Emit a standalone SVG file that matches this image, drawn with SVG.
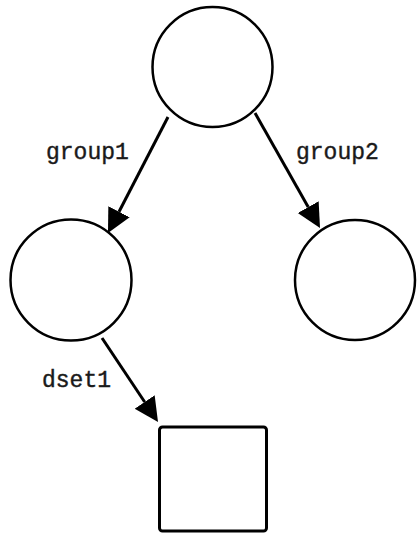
<svg xmlns="http://www.w3.org/2000/svg" width="417" height="537" viewBox="0 0 417 537">
<defs>
<style>
.node{fill:#fff;stroke:#000;stroke-width:2.5}
.edge{stroke:#000;stroke-width:3;fill:none}
.lbl{font-family:"Liberation Mono","Courier New",monospace;font-size:23px;fill:#1a1a1a;stroke:#1a1a1a;stroke-width:0.4}
</style>
<marker id="arr" markerUnits="userSpaceOnUse" markerWidth="26" markerHeight="26" refX="0" refY="12" orient="auto">
<path d="M0,0 L24,12 L0,24 z" fill="#000"/>
</marker>
</defs>
<g id="root"><circle class="node" cx="212.5" cy="67" r="60"/></g>
<g id="group1"><circle class="node" cx="71" cy="280" r="60.5"/></g>
<g id="group2"><circle class="node" cx="355" cy="280" r="60"/></g>
<g id="dset1"><rect class="node" x="159.5" y="427" width="107" height="104" rx="3" style="stroke-width:3"/></g>
<g id="edges">
<line class="edge" x1="168" y1="117" x2="119" y2="211.7" marker-end="url(#arr)"/>
<text class="lbl" x="46" y="159">group1</text>
<line class="edge" x1="255" y1="113" x2="308.2" y2="207.1" marker-end="url(#arr)"/>
<text class="lbl" x="296" y="159">group2</text>
<line class="edge" x1="102" y1="338" x2="144.7" y2="402" marker-end="url(#arr)"/>
<text class="lbl" x="42" y="387">dset1</text>
</g>
</svg>
